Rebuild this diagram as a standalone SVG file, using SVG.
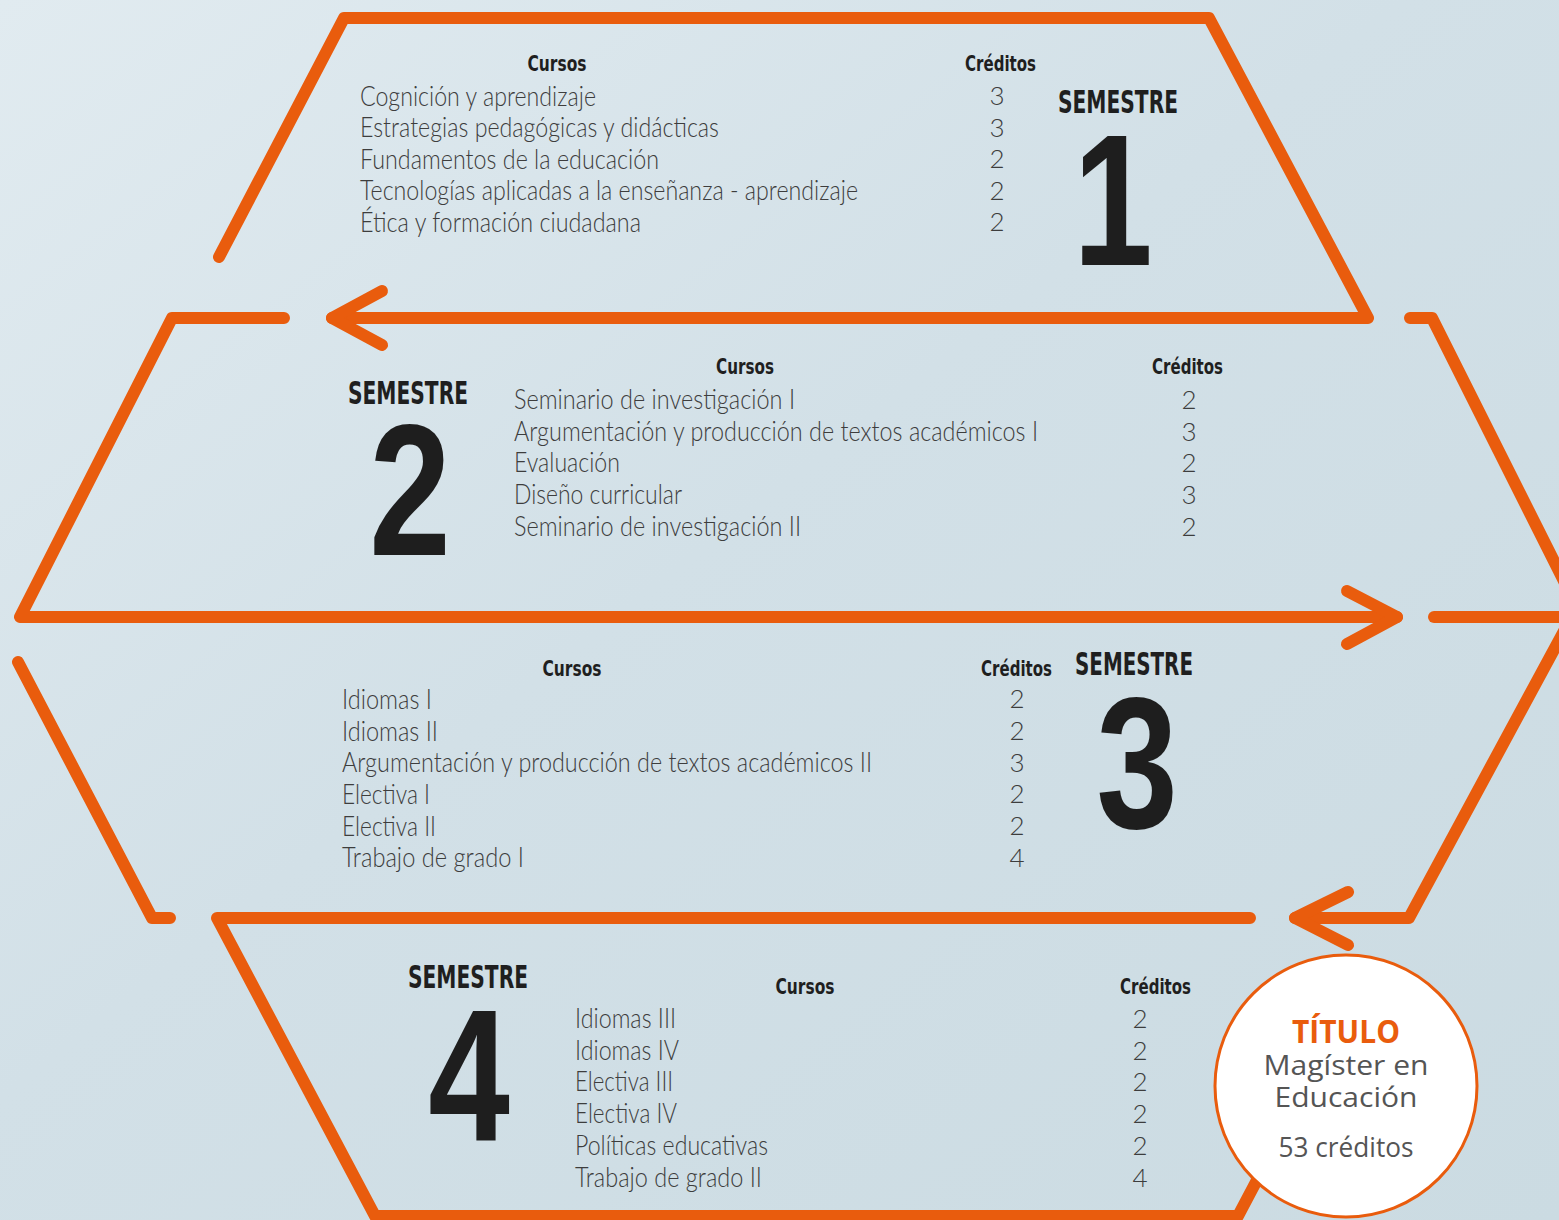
<svg xmlns="http://www.w3.org/2000/svg" width="1559" height="1220" viewBox="0 0 1559 1220">
<defs>
<linearGradient id="bg" x1="0" y1="0" x2="1" y2="1">
<stop offset="0" stop-color="#e1ebf0"/>
<stop offset="0.45" stop-color="#d2e0e7"/>
<stop offset="1" stop-color="#cbdbe2"/>
</linearGradient>
<style>
.ln{fill:none;stroke:#e95c0d;stroke-width:12;stroke-linecap:round;stroke-linejoin:round}
.hd{font-family:"Liberation Sans Narrow","DejaVu Sans Condensed","Roboto",sans-serif;font-weight:bold;font-size:22px;fill:#1f1f1f}
.sem{font-family:"Liberation Sans Narrow","DejaVu Sans Condensed","Roboto",sans-serif;font-weight:bold;font-size:32px;fill:#1f1f1f;text-anchor:middle}
.big{font-family:"Liberation Sans","Arial",sans-serif;font-weight:bold;font-size:188px;fill:#1e1e1e;text-anchor:middle}
.c{font-family:"Lato","Open Sans","Liberation Sans",sans-serif;font-weight:300;font-size:27px;fill:#3d3d3d}
.n{font-family:"Lato","Open Sans","Liberation Sans",sans-serif;font-weight:300;font-size:26px;fill:#3d3d3d;text-anchor:middle}
.t1{font-family:"Open Sans","Noto Sans","Liberation Sans",sans-serif;font-weight:bold;font-size:32px;fill:#e95c0d;text-anchor:middle}
.t2{font-family:"Open Sans","Noto Sans","Liberation Sans",sans-serif;font-size:28px;fill:#555555;text-anchor:middle}
</style>
</defs>
<rect x="0" y="0" width="1559" height="1220" fill="url(#bg)"/>

<g id="connectors">
<path class="ln" d="M219,257 L344,18 L1209,18 L1368,318 L332,318"/>
<path class="ln" d="M382,291 L332,318 L382,345"/>
<path class="ln" d="M284,318 L172,318 L20,617 L1397,617"/>
<path class="ln" d="M1347,591 L1397,617 L1347,644"/>
<path class="ln" d="M1410,318 L1432,318 L1577,607 L1409,918 L1295,918"/>
<path class="ln" d="M1348,892 L1295,918 L1348,945"/>
<path class="ln" d="M1434,617 L1580,617"/>
<path class="ln" d="M18,662 L152,918 L170,918"/>
<path class="ln" d="M1250,918 L217,918 L375,1216 L1238,1216 L1275,1146"/>
</g>

<g id="semestre1">
<text class="hd" x="557" y="71" text-anchor="middle" textLength="59" lengthAdjust="spacingAndGlyphs">Cursos</text>
<text class="hd" x="965" y="71" textLength="71" lengthAdjust="spacingAndGlyphs">Créditos</text>
<text class="c" x="360" y="106" textLength="236" lengthAdjust="spacingAndGlyphs">Cognición y aprendizaje</text>
<text class="c" x="360" y="137" textLength="359" lengthAdjust="spacingAndGlyphs">Estrategias pedagógicas y didácticas</text>
<text class="c" x="360" y="169" textLength="299" lengthAdjust="spacingAndGlyphs">Fundamentos de la educación</text>
<text class="c" x="360" y="200" textLength="498" lengthAdjust="spacingAndGlyphs">Tecnologías aplicadas a la enseñanza - aprendizaje</text>
<text class="c" x="360" y="232" textLength="281" lengthAdjust="spacingAndGlyphs">Ética y formación ciudadana</text>
<text class="n" x="997" y="105">3</text>
<text class="n" x="997" y="137">3</text>
<text class="n" x="997" y="168">2</text>
<text class="n" x="997" y="200">2</text>
<text class="n" x="997" y="231">2</text>
<text class="sem" x="1118" y="113" textLength="120" lengthAdjust="spacingAndGlyphs">SEMESTRE</text>
<text class="big" x="0" y="0" transform="translate(1113,265) scale(0.76,1)">1</text>
</g>

<g id="semestre2">
<text class="sem" x="408" y="404" textLength="120" lengthAdjust="spacingAndGlyphs">SEMESTRE</text>
<text class="big" x="0" y="0" transform="translate(410,555) scale(0.78,1)">2</text>
<text class="hd" x="745" y="374" text-anchor="middle" textLength="58" lengthAdjust="spacingAndGlyphs">Cursos</text>
<text class="hd" x="1152" y="374" textLength="71" lengthAdjust="spacingAndGlyphs">Créditos</text>
<text class="c" x="514" y="409" textLength="281" lengthAdjust="spacingAndGlyphs">Seminario de investigación I</text>
<text class="c" x="514" y="441" textLength="524" lengthAdjust="spacingAndGlyphs">Argumentación y producción de textos académicos I</text>
<text class="c" x="514" y="472" textLength="106" lengthAdjust="spacingAndGlyphs">Evaluación</text>
<text class="c" x="514" y="504" textLength="168" lengthAdjust="spacingAndGlyphs">Diseño curricular</text>
<text class="c" x="514" y="536" textLength="287" lengthAdjust="spacingAndGlyphs">Seminario de investigación II</text>
<text class="n" x="1189" y="409">2</text>
<text class="n" x="1189" y="441">3</text>
<text class="n" x="1189" y="472">2</text>
<text class="n" x="1189" y="504">3</text>
<text class="n" x="1189" y="536">2</text>
</g>

<g id="semestre3">
<text class="hd" x="572" y="676" text-anchor="middle" textLength="59" lengthAdjust="spacingAndGlyphs">Cursos</text>
<text class="hd" x="981" y="676" textLength="71" lengthAdjust="spacingAndGlyphs">Créditos</text>
<text class="c" x="342" y="709" textLength="90" lengthAdjust="spacingAndGlyphs">Idiomas I</text>
<text class="c" x="342" y="741" textLength="96" lengthAdjust="spacingAndGlyphs">Idiomas II</text>
<text class="c" x="342" y="772" textLength="530" lengthAdjust="spacingAndGlyphs">Argumentación y producción de textos académicos II</text>
<text class="c" x="342" y="804" textLength="88" lengthAdjust="spacingAndGlyphs">Electiva I</text>
<text class="c" x="342" y="836" textLength="94" lengthAdjust="spacingAndGlyphs">Electiva II</text>
<text class="c" x="342" y="867" textLength="182" lengthAdjust="spacingAndGlyphs">Trabajo de grado I</text>
<text class="n" x="1017" y="708">2</text>
<text class="n" x="1017" y="740">2</text>
<text class="n" x="1017" y="772">3</text>
<text class="n" x="1017" y="803">2</text>
<text class="n" x="1017" y="835">2</text>
<text class="n" x="1017" y="867">4</text>
<text class="sem" x="1134" y="675" textLength="118" lengthAdjust="spacingAndGlyphs">SEMESTRE</text>
<text class="big" x="0" y="0" transform="translate(1137,828) scale(0.78,1)">3</text>
</g>

<g id="semestre4">
<text class="sem" x="468" y="988" textLength="120" lengthAdjust="spacingAndGlyphs">SEMESTRE</text>
<text class="big" x="0" y="0" transform="translate(469,1140) scale(0.78,1)">4</text>
<text class="hd" x="805" y="994" text-anchor="middle" textLength="59" lengthAdjust="spacingAndGlyphs">Cursos</text>
<text class="hd" x="1120" y="994" textLength="71" lengthAdjust="spacingAndGlyphs">Créditos</text>
<text class="c" x="575" y="1028" textLength="101" lengthAdjust="spacingAndGlyphs">Idiomas III</text>
<text class="c" x="575" y="1060" textLength="104" lengthAdjust="spacingAndGlyphs">Idiomas IV</text>
<text class="c" x="575" y="1091" textLength="98" lengthAdjust="spacingAndGlyphs">Electiva III</text>
<text class="c" x="575" y="1123" textLength="102" lengthAdjust="spacingAndGlyphs">Electiva IV</text>
<text class="c" x="575" y="1155" textLength="193" lengthAdjust="spacingAndGlyphs">Políticas educativas</text>
<text class="c" x="575" y="1187" textLength="187" lengthAdjust="spacingAndGlyphs">Trabajo de grado II</text>
<text class="n" x="1140" y="1028">2</text>
<text class="n" x="1140" y="1060">2</text>
<text class="n" x="1140" y="1091">2</text>
<text class="n" x="1140" y="1123">2</text>
<text class="n" x="1140" y="1155">2</text>
<text class="n" x="1140" y="1187">4</text>
</g>

<g id="titulo">
<circle cx="1346" cy="1086" r="131" fill="#ffffff" stroke="#e95c0d" stroke-width="3"/>
<text class="t1" x="1346" y="1043" textLength="108" lengthAdjust="spacingAndGlyphs">TÍTULO</text>
<text class="t2" x="1346" y="1075" textLength="165" lengthAdjust="spacingAndGlyphs">Magíster en</text>
<text class="t2" x="1346" y="1107" textLength="143" lengthAdjust="spacingAndGlyphs">Educación</text>
<text class="t2" x="1346" y="1157" font-size="27" textLength="135" lengthAdjust="spacingAndGlyphs">53 créditos</text>
</g>
</svg>
